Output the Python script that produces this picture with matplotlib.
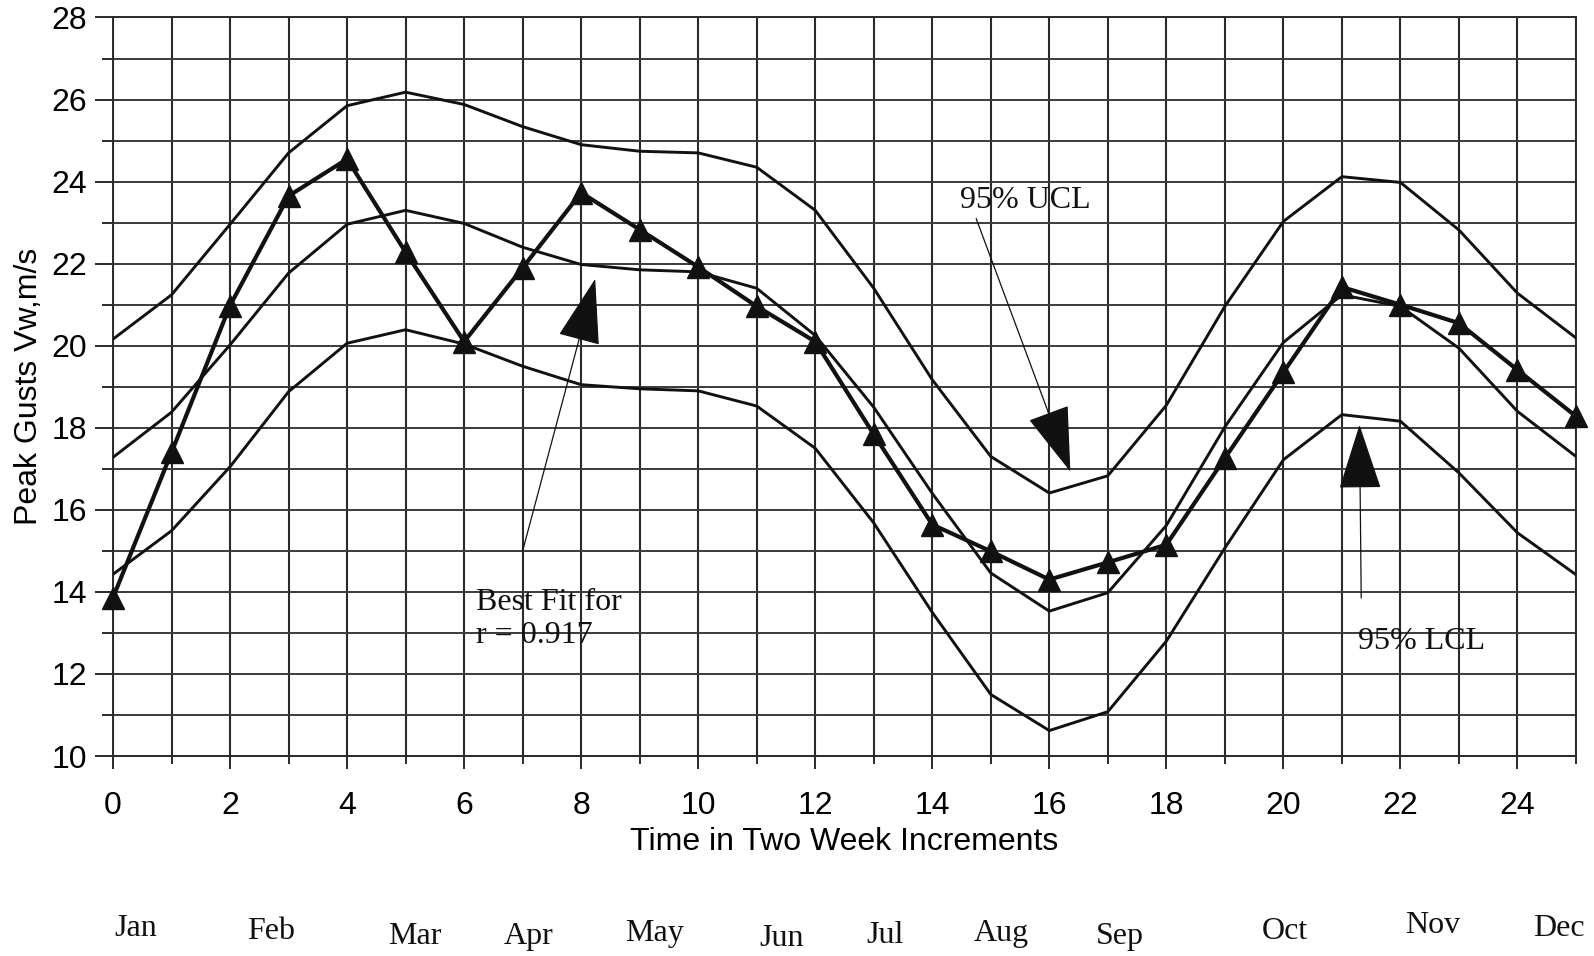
import matplotlib
matplotlib.use("Agg")
import matplotlib.pyplot as plt
from matplotlib.ticker import MultipleLocator

# ---- data -------------------------------------------------------------
weeks = [0, 1, 2, 3, 4, 5, 6, 7, 8, 9, 10, 11, 12,
         13, 14, 15, 16, 17, 18, 19, 20, 21, 22, 23, 24, 25]

observed = [13.86, 17.40, 20.98, 23.65, 24.55, 22.28, 20.10, 21.90, 23.73,
            22.83, 21.92, 20.96, 20.10, 17.84, 15.64, 14.99, 14.30, 14.72,
            15.15, 17.26, 19.35, 21.43, 21.00, 20.55, 19.41, 18.28]

best_fit = [17.28, 18.38, 20.02, 21.77, 22.96, 23.30, 22.98, 22.40, 21.98,
            21.85, 21.80, 21.40, 20.25, 18.50, 16.40, 14.46, 13.53, 13.98,
            15.62, 18.02, 20.08, 21.24, 20.96, 19.94, 18.40, 17.30]

ucl_95 = [20.16, 21.24, 22.96, 24.70, 25.85, 26.18, 25.88, 25.34, 24.90,
          24.74, 24.70, 24.35, 23.30, 21.40, 19.17, 17.30, 16.41, 16.83,
          18.55, 20.96, 23.03, 24.12, 23.98, 22.82, 21.28, 20.19]

lcl_95 = [14.43, 15.49, 17.05, 18.88, 20.06, 20.39, 20.04, 19.50, 19.05,
          18.95, 18.90, 18.53, 17.50, 15.68, 13.50, 11.50, 10.62, 11.08,
          12.80, 15.07, 17.22, 18.32, 18.16, 16.90, 15.44, 14.42]

months = ["Jan", "Feb", "Mar", "Apr", "May", "Jun",
          "Jul", "Aug", "Sep", "Oct", "Nov", "Dec"]

# ---- layout -----------------------------------------------------------
month_x = [0.39, 2.70, 5.16, 7.11, 9.25, 11.42, 13.20, 15.18, 17.20, 20.02, 22.55, 24.70]
month_y = [-0.233, -0.238, -0.244, -0.245, -0.240, -0.247,
           -0.243, -0.240, -0.245, -0.237, -0.229, -0.233]

SANS = "Liberation Sans"
SERIF = "Liberation Serif"
INK = "#111111"
GRID = "#2a2a2a"

fig = plt.figure(figsize=(15.94, 9.56), dpi=100)
ax = fig.add_axes([0.0709, 0.2092, 0.9178, 0.7725])

ax.set_xlim(0, 25)
ax.set_ylim(10, 28)

ax.xaxis.set_major_locator(MultipleLocator(2))
ax.xaxis.set_minor_locator(MultipleLocator(1))
ax.yaxis.set_major_locator(MultipleLocator(2))
ax.yaxis.set_minor_locator(MultipleLocator(1))

ax.grid(True, which="both", axis="x", color=GRID, lw=1.5)
ax.grid(True, which="both", axis="y", color="#3a3a3a", lw=1.4)
ax.set_axisbelow(True)

for s in ax.spines.values():
    s.set_color(GRID)
    s.set_linewidth(1.4)

ax.tick_params(axis="x", which="major", direction="out", length=9.4, width=1.4,
               color=GRID, pad=16, labelsize=23)
ax.tick_params(axis="x", which="minor", direction="out", length=5.8, width=1.4,
               color=GRID)
ax.tick_params(axis="y", which="major", direction="out", length=13, width=1.4,
               color=GRID, pad=5.8, labelsize=23)
ax.tick_params(axis="y", which="minor", direction="out", length=8, width=1.4,
               color=GRID)
for lab in ax.get_xticklabels() + ax.get_yticklabels():
    lab.set_fontfamily(SANS)

# ---- series -----------------------------------------------------------
ax.plot(weeks, ucl_95, color=INK, lw=2.1, zorder=3)
ax.plot(weeks, best_fit, color=INK, lw=2.1, zorder=3)
ax.plot(weeks, lcl_95, color=INK, lw=2.1, zorder=3)
ax.plot(weeks, observed, color=INK, lw=3.0, marker="^", ms=15.5,
        markerfacecolor=INK, markeredgecolor=INK, zorder=4, clip_on=False)

# ---- axis labels ------------------------------------------------------
ax.set_xlabel("Time in Two Week Increments", fontsize=23, family=SANS)
ax.xaxis.set_label_coords(0.5, -0.1165)
ax.xaxis.label.set_va("center")
ax.set_ylabel("Peak Gusts Vw,m/s", fontsize=23, family=SANS)
ax.yaxis.set_label_coords(-0.0575, 0.5)
ax.yaxis.label.set_va("center")

# month names under the week scale
for name, mx, my in zip(months, month_x, month_y):
    ax.text(mx, my, name, transform=ax.get_xaxis_transform(), fontsize=23,
            family=SERIF, ha="center", va="center", color=INK)

# ---- annotations ------------------------------------------------------
arrow_kw = dict(arrowstyle="-|>,head_length=43,head_width=14", mutation_scale=1,
                color=INK, lw=0.9, shrinkA=0, shrinkB=0)

ax.text(15.59, 23.54, "95% UCL", fontsize=23, family=SERIF, ha="center",
        va="center", color=INK, zorder=5)
ax.annotate("", xy=(16.36, 16.93), xytext=(14.75, 23.1), arrowprops=arrow_kw,
            zorder=5)

ax.text(6.21, 13.34, "Best Fit for\nr = 0.917", fontsize=23, family=SERIF,
        ha="left", va="center", color=INK, zorder=5)
ax.annotate("", xy=(8.24, 21.63), xytext=(7.0, 15.0), arrowprops=arrow_kw,
            zorder=5)

ax.text(22.36, 12.79, "95% LCL", fontsize=23, family=SERIF, ha="center",
        va="center", color=INK, zorder=5)
ax.annotate("", xy=(21.3, 18.07), xytext=(21.33, 13.85), arrowprops=arrow_kw,
            zorder=5)

fig.savefig("out.png", dpi=100, facecolor="white")
